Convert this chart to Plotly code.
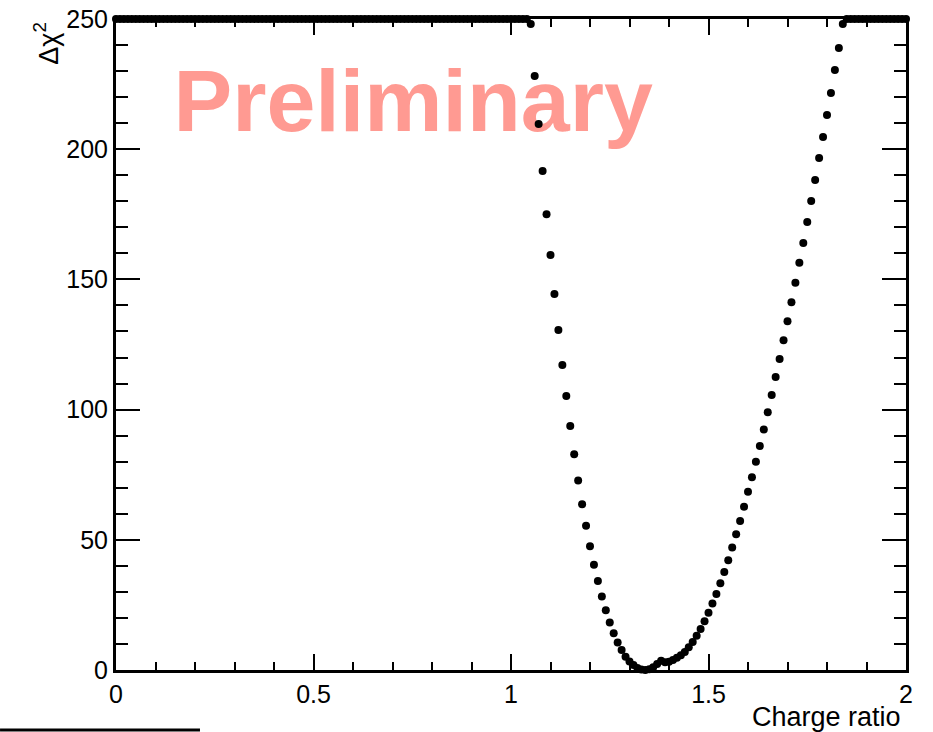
import numpy as np
import plotly.graph_objects as go

# Scan of the charge ratio, 0.00 .. 2.00 in steps of 0.01
charge_ratio = np.round(np.arange(0, 201) * 0.01, 2)

# Delta chi^2 of the scan; values above the frame are held at the 250 ceiling
dchi2_left_flat = [250.0] * 105          # 0.00 .. 1.04
dchi2_valley = [
    248.1, 228.1, 209.7, 191.6, 175.0, 159.4, 144.4, 130.6, 117.1, 105.2,   # 1.05 .. 1.14
    93.7, 82.9, 72.8, 63.7, 55.4, 47.5, 40.4, 34.2, 28.2, 22.9,             # 1.15 .. 1.24
    18.2, 14.1, 10.6, 7.7, 5.1, 3.3, 1.9, 0.8, 0.2, 0.0,                    # 1.25 .. 1.34
    0.3, 1.1, 2.3, 3.6, 3.0, 3.2, 3.8, 4.7, 5.7, 6.9,                       # 1.35 .. 1.44
    8.7, 10.8, 13.2, 15.7, 18.7, 22.0, 25.5, 29.2, 33.3, 37.6,              # 1.45 .. 1.54
    42.1, 47.0, 52.1, 57.2, 62.7, 68.5, 74.0, 80.0, 86.0, 92.4,             # 1.55 .. 1.64
    99.0, 105.6, 112.5, 119.4, 126.6, 133.9, 141.2, 148.7, 156.4, 164.0,    # 1.65 .. 1.74
    172.0, 180.1, 188.2, 196.6, 204.7, 213.1, 221.6, 230.4, 238.9, 248.1,   # 1.75 .. 1.84
]
dchi2_right_flat = [250.0] * 16          # 1.85 .. 2.00
dchi2 = dchi2_left_flat + dchi2_valley + dchi2_right_flat

x_ticks = [0, 0.5, 1, 1.5, 2]
x_tick_labels = ["0", "0.5", "1", "1.5", "2"]
y_ticks = [0, 50, 100, 150, 200, 250]
y_tick_labels = ["0", "50", "100", "150", "200", "250"]

FONT = "Liberation Sans, Arial, Helvetica, sans-serif"

fig = go.Figure()

# watermark text sits underneath the points
fig.add_trace(go.Scatter(
    x=[0.1455], y=[215.5], mode="text", text=["Preliminary"],
    textposition="middle right",
    textfont=dict(family=FONT, size=88, color="#ff9a92", weight="bold"),
    hoverinfo="skip", showlegend=False, cliponaxis=False,
))

fig.add_trace(go.Scatter(
    x=charge_ratio, y=dchi2, mode="markers",
    marker=dict(color="black", size=8, line=dict(width=0)),
    showlegend=False, cliponaxis=False,
))

axis_common = dict(
    showline=True, linewidth=3, linecolor="black", mirror="allticks",
    ticks="inside", tickcolor="black", tickwidth=1.5,
    showgrid=False, zeroline=False, automargin=False,
    tickfont=dict(family=FONT, size=25, color="black"),
)

fig.update_xaxes(
    range=[0, 2], tickvals=x_ticks, ticktext=x_tick_labels, ticklen=16,
    minor=dict(dtick=0.1, ticks="inside", ticklen=8, tickcolor="black", tickwidth=1.5, showgrid=False),
    **axis_common,
)
fig.update_yaxes(
    range=[0, 250], tickvals=y_ticks, ticktext=y_tick_labels, ticklen=24,
    minor=dict(dtick=10, ticks="inside", ticklen=12, tickcolor="black", tickwidth=1.5, showgrid=False),
    **axis_common,
)

fig.update_layout(
    width=933, height=732,
    margin=dict(l=116, r=27, t=19, b=62),
    paper_bgcolor="white", plot_bgcolor="white",
    font=dict(family=FONT, color="black"),
    annotations=[
        dict(text="Δχ<sup>2</sup>", xref="paper", yref="paper", x=-0.0886, y=0.998,
             xanchor="center", yanchor="top", textangle=-90, showarrow=False,
             font=dict(family=FONT, size=27, color="black")),
        dict(text="Charge ratio", xref="paper", yref="paper", x=0.996, y=-0.046,
             xanchor="right", yanchor="top", showarrow=False,
             font=dict(family=FONT, size=27, color="black")),
    ],
    shapes=[
        dict(type="line", xref="paper", yref="paper", x0=-0.1468, x1=0.1063,
             y0=-0.0922, y1=-0.0922, line=dict(color="black", width=3)),
    ],
)

fig.write_html("out.html")
